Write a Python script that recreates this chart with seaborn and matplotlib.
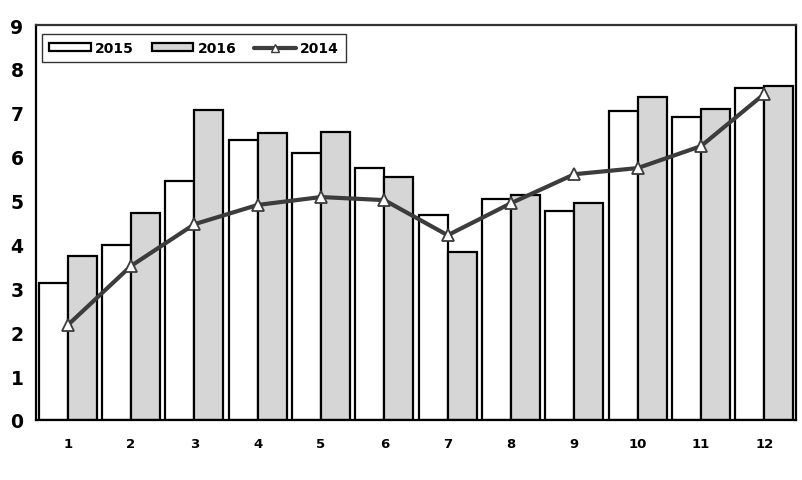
import matplotlib
matplotlib.use("Agg")
import matplotlib.pyplot as plt
import seaborn as sns
import pandas as pd
import numpy as np
from matplotlib.patches import Patch
from matplotlib.lines import Line2D

months = ["1", "2", "3", "4", "5", "6", "7", "8", "9", "10", "11", "12"]
v2015 = [3.12, 3.99, 5.44, 6.38, 6.08, 5.74, 4.67, 5.03, 4.76, 7.04, 6.90, 7.56]
v2016 = [3.74, 4.72, 7.06, 6.54, 6.56, 5.54, 3.83, 5.13, 4.94, 7.36, 7.08, 7.61]
v2014 = [2.16, 3.51, 4.46, 4.90, 5.08, 5.01, 4.21, 4.94, 5.60, 5.74, 6.24, 7.43]
yticks = [0, 1, 2, 3, 4, 5, 6, 7, 8, 9]

sns.set_style("white")
plt.rcParams['font.family'] = ['DejaVu Sans']
plt.rcParams['font.weight'] = 'bold'
plt.rcParams['text.color'] = 'black'
plt.rcParams['xtick.color'] = 'black'
plt.rcParams['ytick.color'] = 'black'

bars = pd.DataFrame({
    "month": months * 2,
    "value": v2015 + v2016,
    "year": ["2015"] * 12 + ["2016"] * 12,
})
line = pd.DataFrame({"month": months, "value": v2014})

fig = plt.figure(figsize=(8.02, 4.81), dpi=100)
ax = fig.add_axes([36/802, 60/481, 760/802, 395/481])

sns.barplot(data=bars, x="month", y="value", hue="year", order=months,
            hue_order=["2015", "2016"], palette={"2015": "white", "2016": "#d6d6d6"},
            width=0.92, edgecolor="black", linewidth=1.6, saturation=1,
            legend=False, ax=ax)
sns.pointplot(data=line, x="month", y="value", order=months, color="#3c3c3c",
              markers="^", linestyles="-", ax=ax, linewidth=3,
              markersize=8, markerfacecolor="white", markeredgecolor="#3c3c3c",
              markeredgewidth=1.3, errorbar=None)

ax.set_xlim(-0.5, 11.5)
ax.set_ylim(0, 9)
ax.set_yticks(yticks)
ax.set_yticklabels([str(t) for t in yticks], fontsize=13.5, fontweight='bold', color='black')
ax.set_xticks(range(12))
ax.set_xticklabels(months, fontsize=9.5, fontweight='bold', color='black')
ax.set_xticks(np.arange(-0.5, 12, 1), minor=True)
ax.tick_params(axis='x', which='major', length=0, pad=12)
ax.tick_params(axis='x', which='minor', length=6, width=1.5, direction='out', color='black')
ax.tick_params(axis='y', which='major', length=6, width=1.5, direction='out', color='black', pad=3)
ax.set_xlabel("")
ax.set_ylabel("")
for s in ax.spines.values():
    s.set_visible(True)
    s.set_color("black")
    s.set_linewidth(1.6)
ax.spines['top'].set_color("#333333")

handles = [
    Patch(facecolor="white", edgecolor="black", linewidth=1.6, label="2015"),
    Patch(facecolor="#d6d6d6", edgecolor="black", linewidth=1.6, label="2016"),
    Line2D([], [], color="#3c3c3c", linewidth=3, marker="^", markersize=6,
           markerfacecolor="white", markeredgecolor="#3c3c3c", label="2014"),
]
leg = ax.legend(handles=handles, loc="upper left", bbox_to_anchor=(0.008, 0.977),
                borderaxespad=0, ncol=3, fancybox=False, frameon=True,
                prop={'weight': 'bold', 'size': 10}, handlelength=3.0,
                handleheight=0.5, handletextpad=0.3, columnspacing=1.3,
                borderpad=0.5)
leg.get_frame().set_edgecolor("black")
leg.get_frame().set_linewidth(1.0)

fig.savefig("out.png", dpi=100)
